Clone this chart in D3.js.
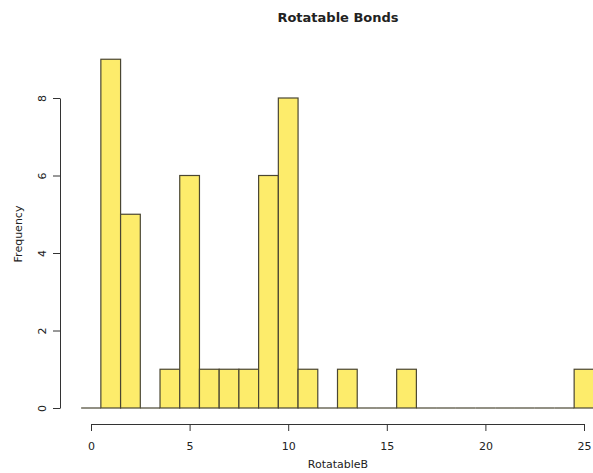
<!DOCTYPE html>
<html>
<head>
<meta charset="utf-8">
<script src="https://cdn.jsdelivr.net/npm/d3@7"></script>
<style>
  body { margin: 0; background: #fff; }
  text { font-family: "DejaVu Sans", "Liberation Sans", sans-serif; fill: #222; }
</style>
</head>
<body>
<div id="chart"></div>
<script>
// histogram bins: centre value and count
let binCenters = [0, 1, 2, 3, 4, 5, 6, 7, 8, 9, 10, 11, 12, 13, 14, 15, 16, 17, 18, 19, 20, 21, 22, 23, 24, 25];
let counts     = [0, 9, 5, 0, 1, 6, 1, 1, 1, 6, 8, 1, 0, 1, 0, 0, 1, 0, 0, 0, 0, 0, 0, 0, 0, 1];
let xTicks = [0, 5, 10, 15, 20, 25];
let yTicks = [0, 2, 4, 6, 8];

let width = 593, height = 473;

let svg = d3.select("#chart").append("svg")
            .attr("width", width)
            .attr("height", height);

let x = d3.scaleLinear().domain([0, 25]).range([91, 584]);
let y = d3.scaleLinear().domain([0, 8]).range([408, 98]);

// zero-height bins are drawn by R as a flat line on the baseline
svg.append("g").selectAll("line")
    .data(binCenters.filter((d, i) => counts[i] === 0))
    .enter().append("line")
    .attr("x1", d => x(d - 0.5))
    .attr("x2", d => x(d + 0.5))
    .attr("y1", y(0))
    .attr("y2", y(0))
    .attr("stroke", "#4a4632")
    .attr("stroke-width", 1.2);

// bars
svg.append("g").selectAll("rect")
    .data(binCenters.filter((d, i) => counts[i] > 0))
    .enter().append("rect")
    .attr("x", d => x(d - 0.5))
    .attr("y", d => y(counts[binCenters.indexOf(d)]))
    .attr("width", d => x(d + 0.5) - x(d - 0.5))
    .attr("height", d => y(0) - y(counts[binCenters.indexOf(d)]))
    .attr("fill", "#fdec6b")
    .attr("stroke", "#4a4632")
    .attr("stroke-width", 1.2);

// x axis
let xAxis = svg.append("g")
    .attr("transform", "translate(0,424)")
    .call(d3.axisBottom(x).tickValues(xTicks).tickSize(7).tickPadding(11).tickSizeOuter(0));
xAxis.select(".domain").attr("stroke", "#333");
xAxis.selectAll("line").attr("stroke", "#333");
xAxis.selectAll("text").style("font-size", "11px").attr("fill", "#222");

// y axis
let yAxis = svg.append("g")
    .attr("transform", "translate(60,0)")
    .call(d3.axisLeft(y).tickValues(yTicks).tickSize(7).tickSizeOuter(0));
yAxis.select(".domain").attr("stroke", "#333");
yAxis.selectAll("line").attr("stroke", "#333");
yAxis.selectAll("text")
    .style("font-size", "11px")
    .attr("fill", "#222")
    .attr("x", null).attr("dy", null)
    .attr("text-anchor", "middle")
    .attr("transform", d => "translate(-18,0) rotate(-90)")
    .attr("dy", "0.35em");

// titles
svg.append("text")
    .attr("x", 338).attr("y", 22)
    .attr("text-anchor", "middle")
    .style("font-size", "13px")
    .style("font-weight", "bold")
    .text("Rotatable Bonds");

svg.append("text")
    .attr("x", 338).attr("y", 468)
    .attr("text-anchor", "middle")
    .style("font-size", "11px")
    .text("RotatableB");

svg.append("text")
    .attr("transform", "translate(22,234) rotate(-90)")
    .attr("text-anchor", "middle")
    .style("font-size", "11px")
    .text("Frequency");
</script>
</body>
</html>
